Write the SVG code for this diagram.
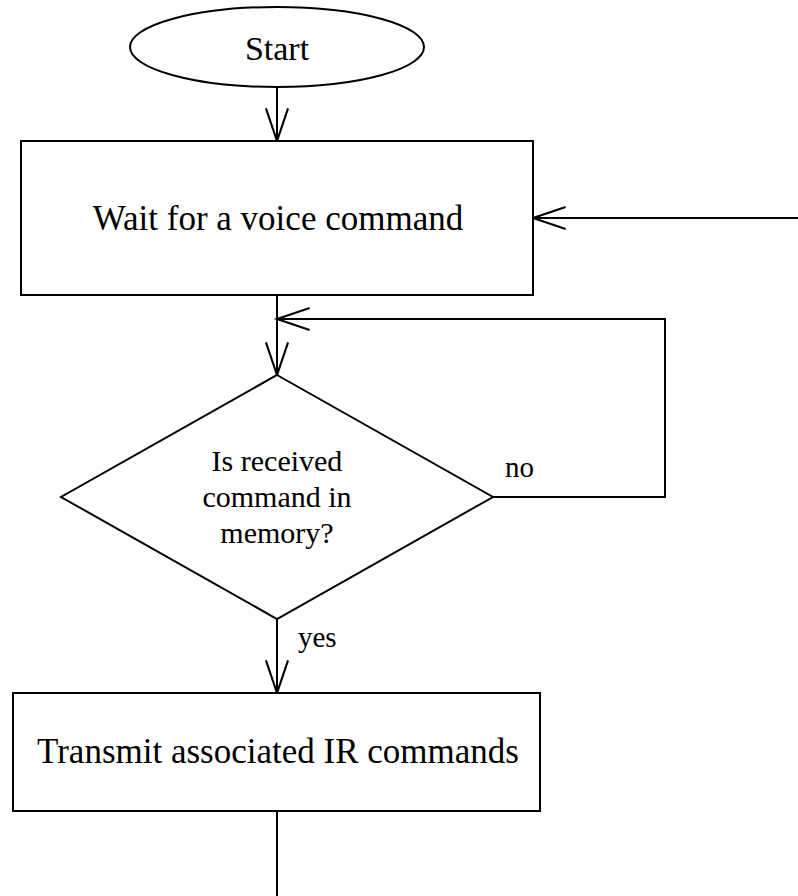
<svg xmlns="http://www.w3.org/2000/svg" width="798" height="896" viewBox="0 0 798 896">
  <style>
    .shape { fill: #ffffff; stroke: #000000; stroke-width: 2; }
    .wire { fill: none; stroke: #000000; stroke-width: 2; }
    .label { font-family: "Liberation Serif", "Times New Roman", serif; fill: #000000; }
    .big { font-size: 35px; text-anchor: middle; }
    .mid { font-size: 30px; text-anchor: middle; }
    .small { font-size: 29px; }
  </style>
  <defs>
    <marker id="open-arrow" markerUnits="userSpaceOnUse" markerWidth="40" markerHeight="30" viewBox="-34 -14 38 28" refX="0" refY="0" orient="auto">
      <path d="M -31 -10.5 L 0 0 L -31 10.5" fill="none" stroke="#000000" stroke-width="2"/>
    </marker>
  </defs>
  <rect width="798" height="896" fill="#ffffff"/>

  <!-- connectors -->
  <g id="connectors">
    <line class="wire" x1="277" y1="87" x2="277" y2="141" marker-end="url(#open-arrow)"/>
    <line class="wire" x1="798" y1="218" x2="533" y2="218" marker-end="url(#open-arrow)"/>
    <line class="wire" x1="277" y1="295" x2="277" y2="375" marker-end="url(#open-arrow)"/>
    <polyline class="wire" points="493,497 665,497 665,319 277,319" marker-end="url(#open-arrow)"/>
    <line class="wire" x1="277" y1="619" x2="277" y2="693" marker-end="url(#open-arrow)"/>
    <line class="wire" x1="277" y1="811" x2="277" y2="896"/>
    <text class="label small" x="505" y="477">no</text>
    <text class="label small" x="298" y="647">yes</text>
  </g>

  <!-- start terminal -->
  <g id="start">
    <ellipse class="shape" cx="277" cy="47" rx="147" ry="40"/>
    <text class="label big" x="277" y="60" style="font-size:34px">Start</text>
  </g>

  <!-- wait step -->
  <g id="wait">
    <rect class="shape" x="21" y="141" width="512" height="154"/>
    <text class="label big" x="278" y="230">Wait for a voice command</text>
  </g>

  <!-- decision -->
  <g id="decision">
    <polygon class="shape" points="277,375 493,497 277,619 61,497"/>
    <text class="label mid" x="277" y="471">Is received</text>
    <text class="label mid" x="277" y="507">command in</text>
    <text class="label mid" x="277" y="543">memory?</text>
  </g>

  <!-- transmit step -->
  <g id="transmit">
    <rect class="shape" x="13" y="693" width="527" height="118"/>
    <text class="label big" x="278" y="763">Transmit associated IR commands</text>
  </g>
</svg>
